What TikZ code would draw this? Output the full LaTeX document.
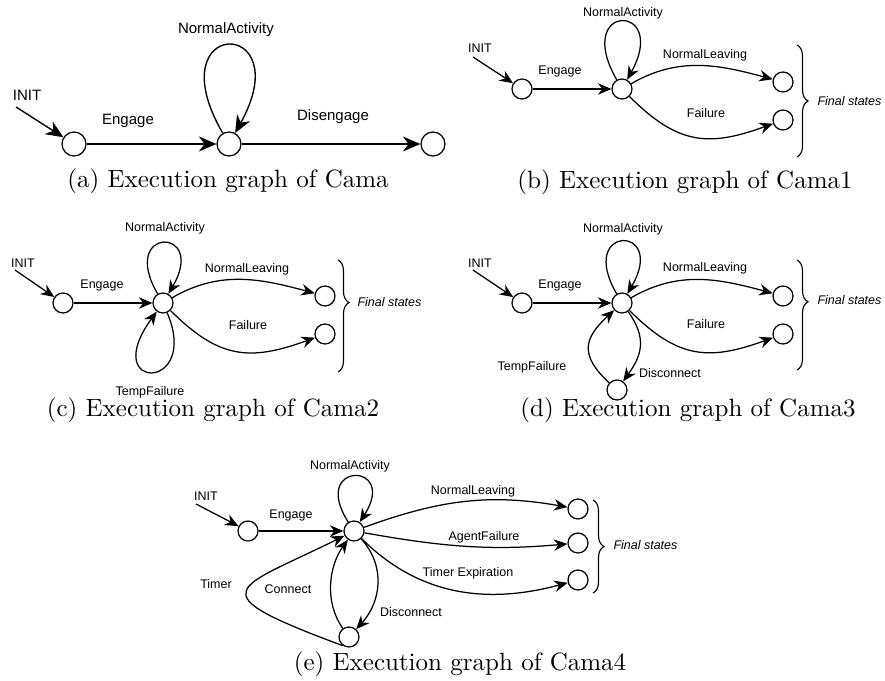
\documentclass[tikz,border=0pt]{standalone}
\usepackage{fontspec}
\newfontfamily\lblfont{Liberation Sans}
\usetikzlibrary{arrows.meta,decorations.pathreplacing}
\tikzset{
  state/.style={circle, draw, line width=0.5pt, minimum size=8pt, inner sep=0pt},
  bigstate/.style={state, minimum size=9.6pt},
  lbl/.style={font=\lblfont\fontsize{5}{6}\selectfont, inner sep=0pt},
  biglbl/.style={font=\lblfont\fontsize{6}{7}\selectfont, inner sep=0pt},
  finlbl/.style={font=\lblfont\itshape\fontsize{5}{6}\selectfont, inner sep=0pt, anchor=west},
  trans/.style={-{Stealth[length=5.4pt,width=4.6pt]}, line width=0.5pt},
  bigtrans/.style={-{Stealth[length=7pt,width=6pt]}, line width=0.55pt},
  fbrace/.style={decorate, decoration={brace, amplitude=4.4pt}, line width=0.45pt},
  captxt/.style={font=\normalsize, inner sep=0pt},
}
\begin{document}
\begin{tikzpicture}[x=0.4pt, y=0.4pt]
\useasboundingbox (0,0) rectangle (885,-680);
% (a)
\node[bigstate] (a1) at (74,-144){};
\node[bigstate] (a2) at (229,-144){};
\node[bigstate] (a3) at (433,-144){};
\coordinate (ai) at (16,-107);
\node[biglbl] (ainit) at (27,-95){INIT};
\node[biglbl] (aeng) at (128,-121){Engage};
\node[biglbl] (aact) at (226,-30){NormalActivity};
\node[biglbl] (adis) at (333,-117){Disengage};
\draw[bigtrans] (ai) -- (a1);
\draw[bigtrans] (a1) -- (a2);
\draw[bigtrans] (a2) -- (a3);
\draw[bigtrans] (a2) .. controls +(-74,128) and +(71,128) .. (a2);
\node[captxt] (capa) at (228,-181){(a) Execution graph of Cama};
% (b)
\node[state] (b1) at (522,-89){};
\node[state] (b2) at (622,-89){};
\node[state] (b3) at (783,-82){};
\node[state] (b4) at (783,-120){};
\coordinate (bi) at (473,-57);
\node[lbl] (binit) at (480,-48){INIT};
\node[lbl] (beng) at (560,-71){Engage};
\node[lbl] (bact) at (623,-13){NormalActivity};
\node[lbl] (bleave) at (705,-55){NormalLeaving};
\node[lbl] (bfail) at (706,-113){Failure};
\draw[trans] (bi) -- (b1);
\draw[trans] (b1) -- (b2);
\draw[trans] (b2) .. controls +(-50,87) and +(48,87) .. (b2);
\draw[trans] (b2) to[out=30,in=165] (b3);
\draw[trans] (b2) to[out=-45,in=200,looseness=1.2] (b4);
\coordinate (bbt) at (797,-45);
\coordinate (bbb) at (797,-157);
\draw[fbrace] (bbt) -- (bbb);
\node[finlbl] (bfin) at (817,-101){Final states};
\node[captxt] (capb) at (685,-182){(b) Execution graph of Cama1};
% (c)
\node[state] (c1) at (63,-303){};
\node[state] (c2) at (163,-303){};
\node[state] (c3) at (325,-296){};
\node[state] (c4) at (325,-334){};
\coordinate (ci) at (15,-270);
\node[lbl] (cinit) at (23,-263){INIT};
\node[lbl] (ceng) at (102,-285){Engage};
\node[lbl] (cact) at (165,-228){NormalActivity};
\node[lbl] (cleave) at (247,-269){NormalLeaving};
\node[lbl] (cfail) at (248,-325){Failure};
\node[lbl] (ctemp) at (150,-392){TempFailure};
\draw[trans] (ci) -- (c1);
\draw[trans] (c1) -- (c2);
\draw[trans] (c2) .. controls +(-45,77) and +(45,77) .. (c2);
\draw[trans] (c2) .. controls +(38,-89) and +(-65,-89) .. (c2);
\draw[trans] (c2) to[out=30,in=165] (c3);
\draw[trans] (c2) to[out=-45,in=200,looseness=1.2] (c4);
\coordinate (cbt) at (338,-260);
\coordinate (cbb) at (338,-372);
\draw[fbrace, decoration={aspect=0.38}] (cbt) -- (cbb);
\node[finlbl] (cfin) at (357,-302){Final states};
\node[captxt] (capc) at (213,-410){(c) Execution graph of Cama2};
% (d)
\node[state] (d1) at (522,-303){};
\node[state] (d2) at (622,-303){};
\node[state] (d3) at (783,-296){};
\node[state] (d4) at (783,-334){};
\node[state] (d5) at (617,-390){};
\coordinate (di) at (473,-270);
\node[lbl] (dinit) at (480,-263){INIT};
\node[lbl] (deng) at (560,-285){Engage};
\node[lbl] (dact) at (623,-229){NormalActivity};
\node[lbl] (dleave) at (705,-268){NormalLeaving};
\node[lbl] (dfail) at (706,-324){Failure};
\node[lbl] (dtemp) at (532,-367){TempFailure};
\node[lbl] (ddisc) at (670,-373){Disconnect};
\draw[trans] (di) -- (d1);
\draw[trans] (d1) -- (d2);
\draw[trans] (d2) .. controls +(-46,79) and +(46,79) .. (d2);
\draw[trans] (d2) to[out=30,in=165] (d3);
\draw[trans] (d2) to[out=-45,in=200,looseness=1.2] (d4);
\draw[trans] (d5) .. controls +(-38,35) and +(-38,-35) .. (d2);
\draw[trans] (d2) .. controls +(25,-35) and +(25,35) .. (d5);
\coordinate (dbt) at (797,-260);
\coordinate (dbb) at (797,-370);
\draw[fbrace, decoration={aspect=0.38}] (dbt) -- (dbb);
\node[finlbl] (dfin) at (817,-300){Final states};
\node[captxt] (capd) at (688,-410){(d) Execution graph of Cama3};
% (e)
\node[state] (e1) at (248,-531){};
\node[state] (e2) at (354,-531){};
\node[state] (e3) at (578,-509){};
\node[state] (e4) at (578,-543){};
\node[state] (e5) at (578,-580){};
\node[state] (eb) at (349,-637){};
\coordinate (ei) at (196,-504);
\node[lbl] (einit) at (206,-496){INIT};
\node[lbl] (eeng) at (291,-515){Engage};
\node[lbl] (eact) at (350,-466){NormalActivity};
\node[lbl] (eleave) at (473,-491){NormalLeaving};
\node[lbl] (eagent) at (484,-537){AgentFailure};
\node[lbl] (eexp) at (468,-573){Timer Expiration};
\node[lbl] (etimer) at (216,-584){Timer};
\node[lbl] (econ) at (288,-589){Connect};
\node[lbl] (edisc) at (411,-612){Disconnect};
\draw[trans] (ei) -- (e1);
\draw[trans] (e1) -- (e2);
\draw[trans] (e2) .. controls +(-45,70) and +(45,70) .. (e2);
\draw[trans] (e2) to[out=20,in=170] (e3);
\draw[trans] (e2) to[out=-10,in=185] (e4);
\draw[trans] (e2) to[out=-45,in=195] (e5);
\draw[trans] (eb.235) .. controls +(-148,55) and +(-119,-59) .. (e2);
\draw[trans] (eb) .. controls +(-25,35) and +(-25,-35) .. (e2);
\draw[trans] (e2) .. controls +(32,-35) and +(32,35) .. (eb);
\coordinate (ebt) at (593,-500);
\coordinate (ebb) at (593,-593);
\draw[fbrace] (ebt) -- (ebb);
\node[finlbl] (efin) at (613,-545){Final states};
\node[captxt] (cape) at (460,-664){(e) Execution graph of Cama4};
\end{tikzpicture}
\end{document}
